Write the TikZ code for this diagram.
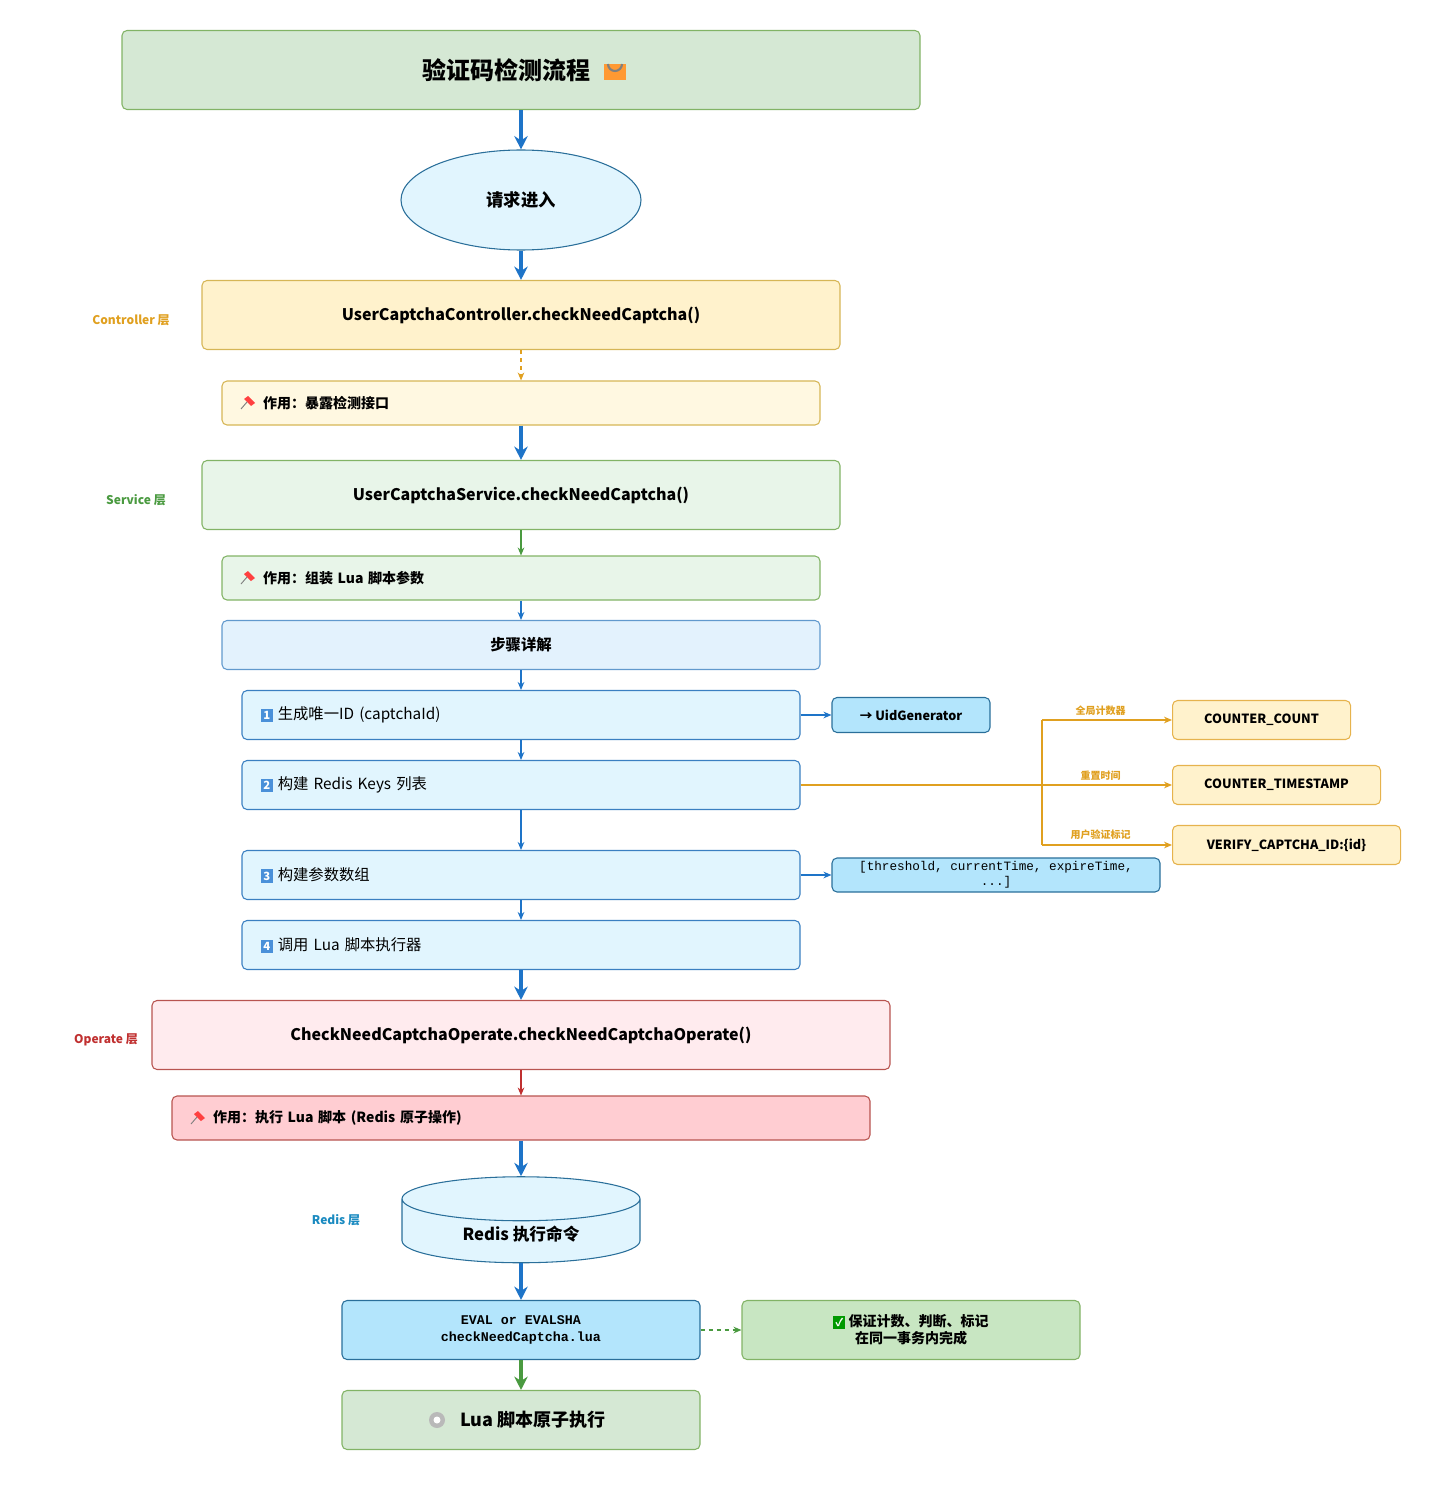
\documentclass[tikz,border=0pt]{standalone}
\usepackage{fontspec}
\setmainfont{Noto Sans CJK SC}
\newfontfamily\codefont{Liberation Mono}
\usetikzlibrary{shapes.geometric,arrows.meta}
\newlength\pxu
\setlength\pxu{0.75pt}
\definecolor{flowblue}{HTML}{1E74C8}
\definecolor{ctrlfill}{HTML}{FFF2CC}
\definecolor{ctrlline}{HTML}{D6B656}
\definecolor{ctrltext}{HTML}{E0A020}
\definecolor{srvfill}{HTML}{E8F5E9}
\definecolor{srvline}{HTML}{82B366}
\definecolor{srvtext}{HTML}{4A9A40}
\definecolor{opfill}{HTML}{FFEBEE}
\definecolor{opline}{HTML}{B85450}
\definecolor{optext}{HTML}{C03030}
\definecolor{rdtext}{HTML}{1A8AC0}
\definecolor{stepfill}{HTML}{E1F5FE}
\definecolor{stepline}{HTML}{3A7FC1}
\definecolor{callfill}{HTML}{B3E5FC}
\definecolor{callline}{HTML}{2A6F9A}
\definecolor{titlefill}{HTML}{D5E8D4}
\definecolor{stepsfill}{HTML}{E3F2FD}
\definecolor{notefill}{HTML}{FFF8E1}
\definecolor{opnotefill}{HTML}{FFCDD2}
\definecolor{okfill}{HTML}{C8E6C2}
\definecolor{keyblue}{HTML}{4A90D9}
\tikzset{
  box/.style={draw, rounded corners=5\pxu, line width=0.8pt, align=center},
  mainflow/.style={draw=flowblue, line width=2.6pt, -{Stealth[length=10pt,width=10pt]}},
  subflow/.style={line width=0.8pt, -{Stealth[length=6pt,width=5pt]}},
  layer/.style={font=\bfseries\fontsize{9}{11}\selectfont},
}
\newcommand\keycap[1]{{\setlength\fboxsep{1.8pt}\colorbox{keyblue}{\textcolor{white}{\bfseries\fontsize{8.5}{8.5}\selectfont#1}}}}
\newcommand\pinat[2]{%
  \fill[red!75] ({#1+2},{#2-7}) -- ({#1+9},{#2}) -- ({#1+5},{#2+3}) -- ({#1-2},{#2-4}) -- cycle;
  \draw[gray, line width=0.7pt] ({#1+1},{#2-1}) -- ({#1-5},{#2+6});}
\begin{document}
\begin{tikzpicture}[x=\pxu, y=-\pxu]
\useasboundingbox (0,0) rectangle (1433,1487);

% main column
\node[box, fill=titlefill, draw=srvline, minimum width=798\pxu, minimum height=79\pxu,
  font=\bfseries\fontsize{18}{20}\selectfont] (title) at (521,70) {验证码检测流程\hspace{30\pxu}};
\node[ellipse, draw=callline, fill=stepfill, line width=0.8pt, minimum width=240\pxu,
  minimum height=100\pxu, font=\bfseries\fontsize{13}{15}\selectfont] (enter) at (521,200) {请求进入};

\node[box, fill=ctrlfill, draw=ctrlline, minimum width=638\pxu, minimum height=69\pxu,
  font=\bfseries\fontsize{12}{14}\selectfont] (ctrl) at (521,315) {UserCaptchaController.checkNeedCaptcha()};
\node[box, fill=notefill, draw=ctrlline, minimum width=598\pxu, minimum height=44\pxu,
  text width=560\pxu, align=left, font=\bfseries\fontsize{10.5}{12}\selectfont] (ctrlnote) at (521,403)
  {\hspace{22\pxu}作用：暴露检测接口};
\node[box, fill=srvfill, draw=srvline, minimum width=638\pxu, minimum height=69\pxu,
  font=\bfseries\fontsize{12}{14}\selectfont] (srv) at (521,495) {UserCaptchaService.checkNeedCaptcha()};
\node[box, fill=srvfill, draw=srvline, minimum width=598\pxu, minimum height=44\pxu,
  text width=560\pxu, align=left, font=\bfseries\fontsize{10.5}{12}\selectfont] (srvnote) at (521,578)
  {\hspace{22\pxu}作用：组装 Lua 脚本参数};
\node[box, fill=stepsfill, draw=stepline!80, minimum width=598\pxu, minimum height=49\pxu,
  font=\bfseries\fontsize{11.5}{13}\selectfont] (steps) at (521,645) {步骤详解};

% steps
\foreach \n/\y/\txt in {1/715/生成唯一ID (captchaId), 2/785/构建 Redis Keys 列表,
                        3/875/构建参数数组, 4/945/调用 Lua 脚本执行器}
  \node[box, fill=stepfill, draw=stepline, minimum width=558\pxu, minimum height=49\pxu,
    text width=520\pxu, align=left, font=\fontsize{11.5}{13}\selectfont] (step\n) at (521,\y)
    {\keycap{\n} \txt};

\node[box, fill=callfill, draw=callline, minimum width=158\pxu, minimum height=35\pxu,
  font=\bfseries\fontsize{9.5}{11}\selectfont] (uid) at (911,715) {→ UidGenerator};
\node[box, fill=callfill, draw=callline, minimum width=328\pxu, minimum height=34\pxu, inner sep=1pt,
  font=\codefont\fontsize{9.5}{11}\selectfont] (args) at (996,875)
  {[threshold, currentTime, expireTime,\\...]};

% redis keys
\foreach \name/\y/\w/\txt/\lbl in {kcount/720/178/COUNTER\_COUNT/全局计数器,
    kstamp/785/208/COUNTER\_TIMESTAMP/重置时间, kverify/845/228/VERIFY\_CAPTCHA\_ID:\{id\}/用户验证标记} {
  \node[box, fill=ctrlfill, draw=ctrltext!80, minimum width=\w\pxu, minimum height=39\pxu,
    anchor=west, font=\bfseries\fontsize{9.5}{11}\selectfont] (\name) at (1172,\y) {\txt};
  \coordinate (j\name) at (1042,\y);
  \draw[ctrltext, subflow] (j\name) -- node[above, pos=0.45, text=ctrltext,
    font=\bfseries\fontsize{7.5}{9}\selectfont] {\lbl} (\name);
}
\draw[ctrltext, line width=0.8pt] (step2.east) -- (jkstamp) (jkcount) -- (jkverify);

% operate and redis
\node[box, fill=opfill, draw=opline, minimum width=738\pxu, minimum height=69\pxu,
  font=\bfseries\fontsize{12}{14}\selectfont] (op) at (521,1035) {CheckNeedCaptchaOperate.checkNeedCaptchaOperate()};
\node[box, fill=opnotefill, draw=opline, minimum width=698\pxu, minimum height=44\pxu,
  text width=660\pxu, align=left, font=\bfseries\fontsize{10.5}{12}\selectfont] (opnote) at (521,1118)
  {\hspace{22\pxu}作用：执行 Lua 脚本 (Redis 原子操作)};
\node[cylinder, shape border rotate=90, aspect=0.35, draw=callline, fill=stepfill, line width=0.8pt,
  minimum width=238\pxu, minimum height=86\pxu, font=\bfseries\fontsize{12.5}{14}\selectfont]
  (redis) at (521,1234) {Redis 执行命令};
\node[box, fill=callfill, draw=callline, minimum width=358\pxu, minimum height=59\pxu,
  font=\codefont\bfseries\fontsize{10}{13}\selectfont] (eval) at (521,1330) {EVAL or EVALSHA\\checkNeedCaptcha.lua};
\node[box, fill=okfill, draw=srvline, minimum width=338\pxu, minimum height=59\pxu,
  font=\bfseries\fontsize{10.5}{13}\selectfont] (atomic) at (911,1330)
  {{\setlength\fboxsep{1.5pt}\colorbox{green!60!black}{\textcolor{white}{\fontsize{8}{8}\selectfont ✓}}} 保证计数、判断、标记\\在同一事务内完成};
\node[box, fill=titlefill, draw=srvline, minimum width=358\pxu, minimum height=59\pxu,
  font=\bfseries\fontsize{13.5}{15}\selectfont] (luarun) at (521,1420) {\hspace{24\pxu}Lua 脚本原子执行};

% icons
\fill[orange!80] (604,64) rectangle (626,80);
\draw[gray, line width=1.6pt] (608,64) arc (180:0:7);
\pinat{246}{403}
\pinat{246}{578}
\pinat{196}{1118}
\fill[gray!55] (437,1420) circle (8);
\fill[white] (437,1420) circle (3.5);

% layer labels
\node[layer, text=ctrltext] (lctrl) at (131,320) {Controller 层};
\node[layer, text=srvtext] (lsrv) at (136,500) {Service 层};
\node[layer, text=optext] (lop) at (106,1040) {Operate 层};
\node[layer, text=rdtext] (lrd) at (336,1220) {Redis 层};

% connectors
\draw[mainflow] (title) -- (enter);
\draw[mainflow] (enter) -- (ctrl);
\draw[subflow, draw=ctrltext, dashed] (ctrl) -- (ctrlnote);
\draw[mainflow] (ctrlnote) -- (srv);
\draw[subflow, draw=srvtext] (srv) -- (srvnote);
\draw[subflow, draw=flowblue] (srvnote) -- (steps);
\draw[subflow, draw=flowblue] (steps) -- (step1);
\draw[subflow, draw=flowblue] (step1) -- (step2);
\draw[subflow, draw=flowblue] (step2) -- (step3);
\draw[subflow, draw=flowblue] (step3) -- (step4);
\draw[subflow, draw=flowblue, line width=1.3pt] (step1) -- (uid);
\draw[subflow, draw=flowblue, line width=1.3pt] (step3) -- (args);
\draw[mainflow] (step4) -- (op);
\draw[subflow, draw=optext] (op) -- (opnote);
\draw[mainflow] (opnote) -- (redis);
\draw[mainflow] (redis) -- (eval);
\draw[mainflow, draw=srvtext] (eval) -- (luarun);
\draw[subflow, draw=srvtext, dashed, line width=1.1pt] (eval) -- (atomic);
\end{tikzpicture}
\end{document}
